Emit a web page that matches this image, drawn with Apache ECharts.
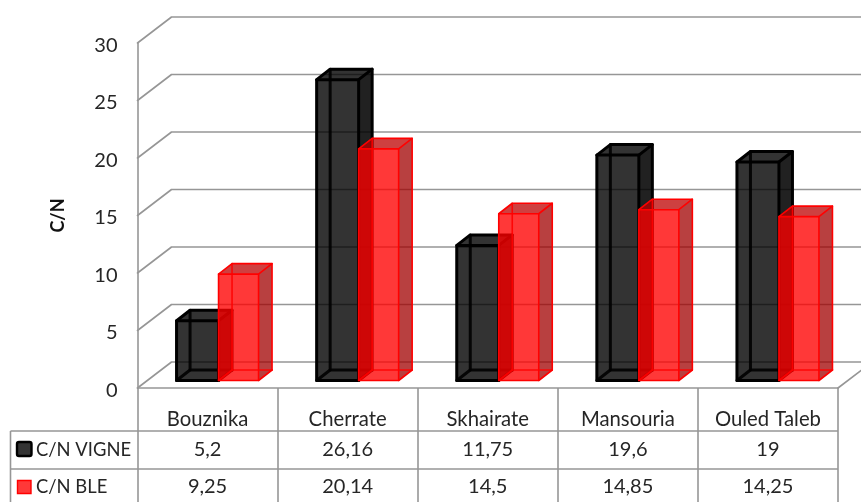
<!DOCTYPE html>
<html><head><meta charset="utf-8">
<style>html,body{margin:0;padding:0;background:#fff}#c{width:861px;height:502px}</style>
<script src="https://cdn.jsdelivr.net/npm/echarts@6/dist/echarts.min.js"></script>
</head><body><div id="c"></div>
<script>
const categories = ['Bouznika','Cherrate','Skhairate','Mansouria','Ouled Taleb'];
const vigneName = 'C/N VIGNE';
const bleName = 'C/N BLE';
const vigne = [5.2,26.16,11.75,19.6,19];
const ble = [9.25,20.14,14.5,14.85,14.25];
const yTicks = [0,5,10,15,20,25,30];
const axisTitle = 'C/N';

const GREY = '#969696', TEXT = '#262626', FONT = 'Lato, "Open Sans", sans-serif';
const wallDX = 34, wallDY = -26;
const barDX = 13.5, barDY = -10.5, baseDY = -7.5;
const fmt = v => String(v).replace('.', ',');
const chart = echarts.init(document.getElementById('c'), null, {renderer:'canvas'});

function poly(pts, fill){
  return {type:'polygon', shape:{points:pts}, style:{fill:fill, stroke:null, lineWidth:0}};
}
function line(pts, stroke, lw){
  return {type:'polyline', shape:{points:pts}, style:{fill:null, stroke:stroke, lineWidth:lw, lineJoin:'round', lineCap:'round'}};
}
function barItem(x0, x1, s){
  return function(params, api){
    const top = api.coord([api.value(0), api.value(1)]);
    const base = api.coord([api.value(0), 0]);
    const cx = top[0], l = cx + x0, r = cx + x1;
    const yb = base[1] + baseDY, yt = top[1] + baseDY;
    const d = (x,y)=>[x+barDX,y+barDY];
    const c = {
      fbl:[l,yb], fbr:[r,yb], ftl:[l,yt], ftr:[r,yt],
      bbl:d(l,yb), bbr:d(r,yb), btl:d(l,yt), btr:d(r,yt)
    };
    return {type:'group', children:[
      poly([c.fbr,c.bbr,c.btr,c.ftr], s.side),
      poly([c.ftl,c.ftr,c.btr,c.btl], s.top),
      poly([c.fbl,c.fbr,c.ftr,c.ftl], s.front),
      line([c.btl,c.bbl,c.bbr], s.inner, s.lw),
      line([c.fbl,c.bbl], s.inner, s.lw),
      line([c.bbr,c.btr,c.btl,c.ftl], s.line, s.lw),
      line([c.ftl,c.fbl,c.fbr,c.ftr,c.ftl], s.line, s.lw),
      line([c.ftr,c.btr], s.line, s.lw),
      line([c.fbr,c.bbr], s.line, s.lw)
    ]};
  };
}
const blackStyle = {side:'rgba(0,0,0,0.87)', top:'rgba(0,0,0,0.8)', front:'rgba(0,0,0,0.8)', line:'#000', inner:'rgba(0,0,0,0.9)', lw:3};
const redStyle = {side:'rgba(160,0,0,0.75)', top:'rgba(190,0,0,0.75)', front:'rgba(255,0,0,0.78)', line:'#ff0000', inner:'rgba(255,0,0,0.9)', lw:1.6};

const tableX = 10.5, tableLeft = 137.5, tableRight = 838;
const graphics = [];
[431,469].forEach(y=>graphics.push({type:'line', shape:{x1:tableX,y1:y,x2:tableRight,y2:y}, style:{stroke:GREY,lineWidth:1.6}, silent:true}));
graphics.push({type:'line', shape:{x1:tableX,y1:431,x2:tableX,y2:502}, style:{stroke:GREY,lineWidth:1.6}, silent:true});
graphics.push({type:'rect', shape:{x:17,y:442,width:14.5,height:14,r:2}, style:{fill:'#333',stroke:'#000',lineWidth:2.4}, silent:true});
graphics.push({type:'rect', shape:{x:17.5,y:480.5,width:13.5,height:13}, style:{fill:'#ff3838',stroke:'#ff0000',lineWidth:1.4}, silent:true});
graphics.push({type:'text', x:36, y:450, style:{text:vigneName,font:'18.4px '+FONT,fill:TEXT,verticalAlign:'middle'}, silent:true});
graphics.push({type:'text', x:36, y:487, style:{text:bleName,font:'18.4px '+FONT,fill:TEXT,verticalAlign:'middle'}, silent:true});

chart.setOption({
  animation:false,
  backgroundColor:'#fff',
  graphic:graphics,
  grid:{left:137.5, width:700.5, top:43, height:345, containLabel:false},
  xAxis:{type:'category', data:categories, boundaryGap:true,
    axisLine:{show:true,lineStyle:{color:GREY,width:1.6}},
    axisTick:{show:true,alignWithLabel:false,length:114,lineStyle:{color:GREY,width:1.6}},
    axisLabel:{color:TEXT,fontFamily:FONT,fontSize:20.3,margin:21,interval:0},
    splitLine:{show:false}},
  yAxis:{type:'value', min:0, max:30, interval:5,
    name:axisTitle, nameLocation:'middle', nameGap:70, nameRotate:90,
    nameTextStyle:{color:'#111',fontFamily:FONT,fontSize:18,fontWeight:'bold'},
    axisLine:{show:true,lineStyle:{color:GREY,width:1.6}},
    axisTick:{show:false},
    axisLabel:{color:TEXT,fontFamily:FONT,fontSize:20,margin:20,verticalAlign:'top',lineHeight:5},
    splitLine:{show:false}},
  series:[
    {type:'custom', name:'walls', data:yTicks.map(v=>[v]), encode:{y:0}, silent:true, z:1, clip:false,
     renderItem(params, api){
       const v = api.value(0);
       const p = api.coord([0, v]);
       const x0 = tableLeft, y = p[1];
       const kids = [line([[x0,y],[x0+wallDX,y+wallDY],[tableRight+wallDX,y+wallDY]], GREY, 1.6)];
       if (v===0) kids.push(line([[tableRight,y],[tableRight+wallDX,y+wallDY]], GREY, 1.6));
       return {type:'group', children:kids};
     }},
    {type:'custom', name:vigneName, data:vigne.map((v,i)=>[i,v]), encode:{x:0,y:1}, z:2, clip:false, renderItem:barItem(-31,11,blackStyle)},
    {type:'custom', name:bleName, data:ble.map((v,i)=>[i,v]), encode:{x:0,y:1}, z:3, clip:false, renderItem:barItem(11,51,redStyle)},
    {type:'custom', name:'table', data:categories.map((c,i)=>[i,vigne[i],ble[i]]), encode:{x:0}, z:4, silent:true, clip:false,
     renderItem(params, api){
       const i = api.value(0), x = api.coord([i,0])[0];
       const t = (val,y)=>({type:'text', style:{text:fmt(val),x:x,y:y,align:'center',verticalAlign:'middle',font:'20px '+FONT,fill:TEXT}});
       return {type:'group', children:[t(api.value(1),450), t(api.value(2),487)]};
     }}
  ]
});
</script></body></html>
